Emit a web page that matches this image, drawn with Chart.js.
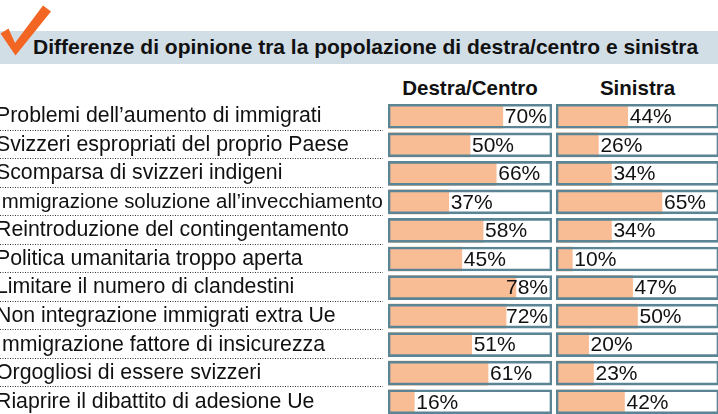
<!DOCTYPE html>
<html lang="it">
<head>
<meta charset="utf-8">
<title>Differenze di opinione</title>
<script src="https://cdn.jsdelivr.net/npm/chart.js@4.4.1/dist/chart.umd.min.js"></script>
<style>
    body {
        margin: 0;
        width: 718px;
        height: 414px;
        overflow: hidden;
        position: relative;
        background: #fff;
        font-family: 'Liberation Sans', Arial, Helvetica, sans-serif;
        color: #111;
    }
    #spunta {
        position: absolute;
        left: 0;
        top: 0;
        z-index: 2;
    }
    #titolo {
        position: absolute;
        left: 0;
        top: 31px;
        width: 685px;
        height: 33px;
        padding-left: 33px;
        background: #d2dee6;
        font-weight: bold;
        font-size: 21px;
        line-height: 31px;
        white-space: nowrap;
    }
    .intestazione {
        position: absolute;
        top: 76px;
        font-weight: bold;
        font-size: 20.5px;
        line-height: 24px;
        text-align: center;
        white-space: nowrap;
    }
    canvas {
        position: absolute;
        top: 102px;
    }
    #graficoDestra { left: -4px; }
    #graficoSinistra { left: 556px; }
</style>
</head>
<body>
<svg id="spunta" width="54" height="58">
    <polygon points="0.5,33.5 8.5,28.5 15,43 43,5.5 51,11.5 15.5,55.5" fill="#f26522"/>
</svg>
<div id="titolo">Differenze di opinione tra la popolazione di destra/centro e sinistra</div>
<div class="intestazione" id="intDestra" style="left:388px;width:164px;"></div>
<div class="intestazione" id="intSinistra" style="left:556px;width:163px;"></div>

<canvas id="graficoDestra" width="556" height="314"></canvas>
<canvas id="graficoSinistra" width="163" height="314"></canvas>

<script>
// Dati
var colonne = ['Destra/Centro', 'Sinistra'];
var categorie = [
    'Problemi dell’aumento di immigrati',
    'Svizzeri espropriati del proprio Paese',
    'Scomparsa di svizzeri indigeni',
    'Immigrazione soluzione all’invecchiamento',
    'Reintroduzione del contingentamento',
    'Politica umanitaria troppo aperta',
    'Limitare il numero di clandestini',
    'Non integrazione immigrati extra Ue',
    'Immigrazione fattore di insicurezza',
    'Orgogliosi di essere svizzeri',
    'Riaprire il dibattito di adesione Ue'
];
var destraCentro = [70, 50, 66, 37, 58, 45, 78, 72, 51, 61, 16];
var sinistra = [44, 26, 34, 65, 34, 10, 47, 50, 20, 23, 42];
var scalaMax = 100;

var fontFamiglia = '"Liberation Sans", Arial, sans-serif';

document.getElementById('intDestra').textContent = colonne[0];
document.getElementById('intSinistra').textContent = colonne[1];

// Corpo del testo delle domande: 21.3px, ridotto solo se la riga non ci sta
var misura = document.createElement('canvas').getContext('2d');
function corpoDomanda(testo) {
    misura.font = '21.3px ' + fontFamiglia;
    var w = misura.measureText(testo).width;
    return w > 387 ? 21.3 * 387 / w : 21.3;
}

// Etichette percentuali dentro la cornice
var etichettePercentuali = {
    id: 'etichettePercentuali',
    afterDatasetsDraw: function (chart) {
        var ctx = chart.ctx;
        var meta = chart.getDatasetMeta(0);
        var limite = chart.scales.x.getPixelForValue(scalaMax) - 4;
        ctx.save();
        ctx.font = '21px ' + fontFamiglia;
        ctx.fillStyle = '#111';
        ctx.textBaseline = 'middle';
        ctx.textAlign = 'left';
        meta.data.forEach(function (bar, i) {
            var testo = chart.data.datasets[0].data[i] + '%';
            var w = ctx.measureText(testo).width;
            var x = Math.min(bar.x + 2, limite - w);
            ctx.fillText(testo, x, bar.y + 1);
        });
        ctx.restore();
    }
};

// Linee puntinate sotto le righe delle domande
var lineePuntinate = {
    id: 'lineePuntinate',
    afterDraw: function (chart) {
        var y = chart.scales.y;
        if (!y.options.display)
            return;
        var ctx = chart.ctx;
        ctx.save();
        ctx.strokeStyle = '#333';
        ctx.lineWidth = 1;
        ctx.setLineDash([1, 1.5]);
        for (var i = 0; i < categorie.length - 1; i++) {
            var py = Math.round((y.getPixelForValue(i) + y.getPixelForValue(i + 1)) / 2) - 0.5;
            ctx.beginPath();
            ctx.moveTo(y.left + 4, py);
            ctx.lineTo(chart.chartArea.left - 5, py);
            ctx.stroke();
        }
        ctx.restore();
    }
};

function creaGrafico(idCanvas, valori, mostraDomande) {
    return new Chart(document.getElementById(idCanvas), {
        type: 'bar',
        data: {
            labels: categorie,
            datasets: [{
                    data: valori,
                    backgroundColor: '#f9bd96',
                    borderWidth: 0,
                    order: 1
                }, {
                    // cornice del 100%
                    data: categorie.map(function () { return scalaMax; }),
                    backgroundColor: 'rgba(0,0,0,0)',
                    borderColor: '#5b8595',
                    borderWidth: 2,
                    borderSkipped: false,
                    order: 0
                }]
        },
        options: {
            indexAxis: 'y',
            responsive: false,
            animation: false,
            events: [],
            layout: {padding: 0},
            datasets: {
                bar: {grouped: false, barThickness: 24}
            },
            plugins: {
                legend: {display: false},
                tooltip: {enabled: false}
            },
            scales: {
                x: {min: 0, max: scalaMax, display: false},
                y: {
                    display: mostraDomande,
                    grid: {display: false},
                    border: {display: false},
                    ticks: {
                        autoSkip: false,
                        crossAlign: 'far',
                        padding: 0,
                        color: '#111',
                        font: function (c) {
                            return {family: fontFamiglia, size: corpoDomanda(categorie[c.index] || '')};
                        }
                    },
                    afterFit: function (scale) {
                        // niente margine sopra/sotto, colonna delle domande larga fissa
                        scale.paddingTop = 0;
                        scale.paddingBottom = 0;
                        if (mostraDomande)
                            scale.width = 392;
                    }
                }
            }
        },
        plugins: [etichettePercentuali, lineePuntinate]
    });
}

creaGrafico('graficoDestra', destraCentro, true);
creaGrafico('graficoSinistra', sinistra, false);
</script>
</body>
</html>
